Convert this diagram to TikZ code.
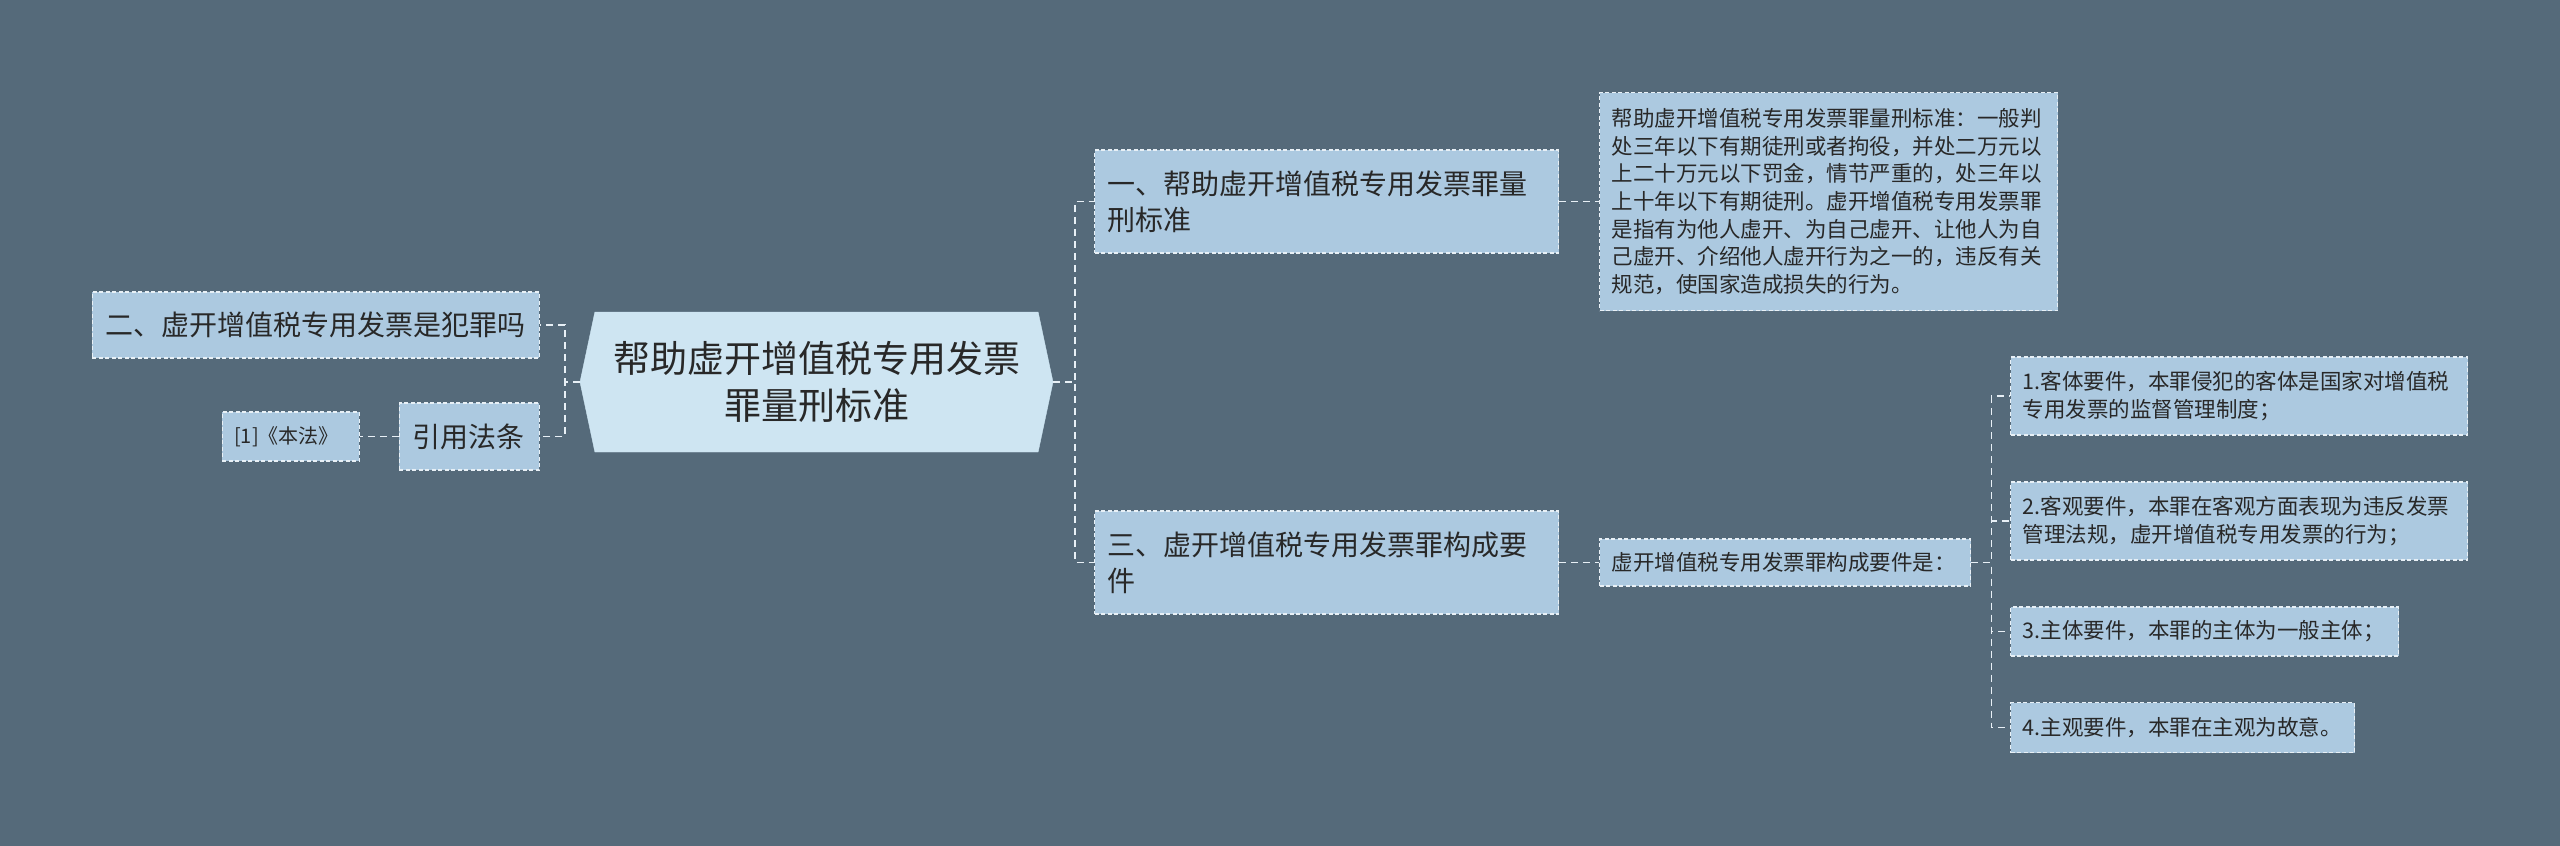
\documentclass[tikz,border=0pt]{standalone}
\usepackage{fontspec}
\setmainfont{Noto Sans CJK SC}
\usetikzlibrary{positioning,shapes.symbols}
\definecolor{bgslate}{RGB}{85,106,122}
\definecolor{boxblue}{RGB}{172,201,224}
\definecolor{topicblue}{RGB}{206,229,242}
\definecolor{dashwhite}{RGB}{232,240,246}
\definecolor{inkgray}{RGB}{40,40,40}

\begin{document}
\begin{tikzpicture}[x=1pt, y=-1pt,
    topicnode/.style={signal, signal to=west and east, signal pointer angle=156, fill=topicblue, draw=topicblue, align=center, text=inkgray, minimum width=473pt, minimum height=140pt, font=\fontsize{37}{47}\selectfont},
    boxnode/.style={rectangle, fill=boxblue, draw=dashwhite, line width=1.2pt, dash pattern=on 4pt off 2.5pt, text=inkgray, align=left, inner xsep=13pt},
    bignode/.style={boxnode, font=\fontsize{28}{36}\selectfont},
    smallnode/.style={boxnode, inner xsep=12pt, font=\fontsize{21.5}{27.5}\selectfont},
    link/.style={draw=dashwhite, line width=1.5pt, dash pattern=on 7pt off 5pt}
    ]
        \fill[bgslate] (0,0) rectangle (2560,846);
        \useasboundingbox (0,0) rectangle (2560,846);

        %Nodes
        \node[topicnode]
            (topic) at (816.5,382)  {帮助虚开增值税专用发票\\罪量刑标准};
        \node[bignode, anchor=east, text width=421pt, minimum height=66pt]
            (crime) at (540,325)    {二、虚开增值税专用发票是犯罪吗};
        \node[bignode, anchor=east, text width=114pt, minimum height=67pt]
            (cite) at (540,436.5)   {引用法条};
        \node[smallnode, text width=113pt, minimum height=49pt, font=\fontsize{20}{26}\selectfont]
            (law) [left=39pt of cite] {[1]《本法》};
        \node[bignode, anchor=west, text width=438pt, minimum height=103pt]
            (standard) at (1094,201.5) {一、帮助虚开增值税专用发票罪量\\刑标准};
        \node[bignode, anchor=west, text width=438pt, minimum height=103pt]
            (makeup) at (1094,562.5) {三、虚开增值税专用发票罪构成要\\件};
        \node[smallnode, text width=434pt, minimum height=218pt, font=\fontsize{21.5}{27.7}\selectfont]
            (penalty) [right=40pt of standard] {帮助虚开增值税专用发票罪量刑标准：一般判\\处三年以下有期徒刑或者拘役，并处二万元以\\上二十万元以下罚金，情节严重的，处三年以\\上十年以下有期徒刑。虚开增值税专用发票罪\\是指有为他人虚开、为自己虚开、让他人为自\\己虚开、介绍他人虚开行为之一的，违反有关\\规范，使国家造成损失的行为。};
        \node[smallnode, text width=347pt, minimum height=47pt]
            (gist) [right=40pt of makeup] {虚开增值税专用发票罪构成要件是：};
        \node[smallnode, anchor=west, text width=433pt, minimum height=78pt]
            (object) at (2010,396)  {1.客体要件，本罪侵犯的客体是国家对增值税\\专用发票的监督管理制度；};
        \node[smallnode, anchor=west, text width=433pt, minimum height=78pt]
            (conduct) at (2010,521) {2.客观要件，本罪在客观方面表现为违反发票\\管理法规，虚开增值税专用发票的行为；};
        \node[smallnode, anchor=west, text width=364pt, minimum height=49pt]
            (subject) at (2010,631.5) {3.主体要件，本罪的主体为一般主体；};
        \node[smallnode, anchor=west, text width=320pt, minimum height=50pt]
            (intent) at (2010,727.5) {4.主观要件，本罪在主观为故意。};

        %Lines
        \draw[link] (topic.west) -- ++(-15pt,0) |- (crime.east);
        \draw[link] (topic.west) -- ++(-15pt,0) |- (cite.east);
        \draw[link] (cite.west) -- (law.east);
        \draw[link] (topic.east) -- ++(22pt,0) |- (standard.west);
        \draw[link] (topic.east) -- ++(22pt,0) |- (makeup.west);
        \draw[link] (standard.east) -- (penalty.west);
        \draw[link] (makeup.east) -- (gist.west);
        \foreach \leaf in {object,conduct,subject,intent}
            \draw[link] (gist.east) -- ++(20pt,0) |- (\leaf.west);
    \end{tikzpicture}
\end{document}
